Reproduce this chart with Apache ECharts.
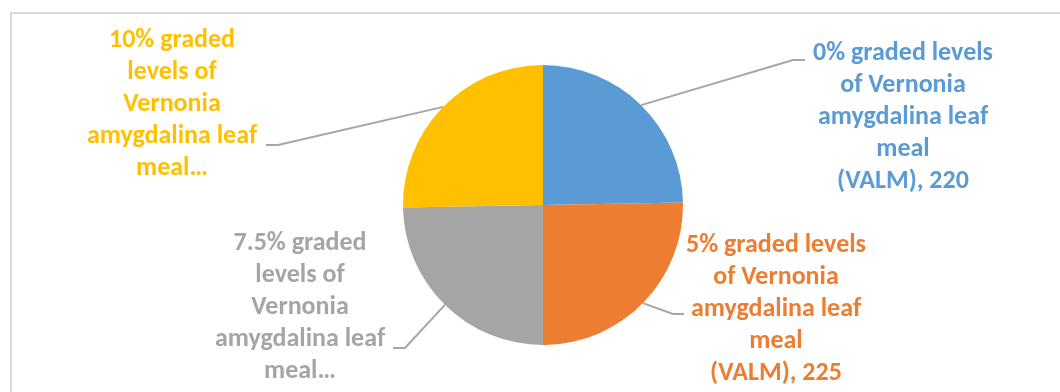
<!DOCTYPE html>
<html>
<head>
<meta charset="utf-8">
<script src="https://cdn.jsdelivr.net/npm/echarts@6/dist/echarts.min.js"></script>
<style>
  html, body { margin: 0; padding: 0; background: #fff; }
  #main { width: 1060px; height: 392px; }
</style>
</head>
<body>
<div id="main"></div>
<script>
// 饼图数据
var categories = [
  "0% graded levels of Vernonia amygdalina leaf meal (VALM)",
  "5% graded levels of Vernonia amygdalina leaf meal (VALM)",
  "7.5% graded levels of Vernonia amygdalina leaf meal (VALM)",
  "10% graded levels of Vernonia amygdalina leaf meal (VALM)"
];
var values = [220, 225, 220, 225];
// 标签文字（按行）
var labelRows = [
  ["0% graded levels", "of Vernonia", "amygdalina leaf", "meal", "(VALM), {c}"],
  ["5% graded levels", "of Vernonia", "amygdalina leaf", "meal", "(VALM), {c}"],
  ["7.5% graded", "levels of", "Vernonia", "amygdalina leaf", "meal…"],
  ["10% graded", "levels of", "Vernonia", "amygdalina leaf", "meal…"]
];
var sliceColors = ["#5B9BD5", "#ED7D31", "#A5A5A5", "#FFC000"];

// 标签位置和引导线折点
var labelPlace = [
  { x: 903, y: 117, bend: [793, 60], end: [805, 60] },
  { x: 776, y: 309, bend: [673, 314], end: [684, 314] },
  { x: 300, y: 307, bend: [405, 348], end: [393, 348] },
  { x: 172, y: 104, bend: [278, 145], end: [266, 145] }
];

var myChart = echarts.init(document.getElementById("main"));
var option;

option = {
  animation: false,
  graphic: [
    {
      type: "rect",
      shape: { x: 11, y: 13, width: 1100, height: 500 },
      style: { fill: "none", stroke: "#d9d9d9", lineWidth: 2 }
    }
  ],
  series: [
    {
      type: "pie",
      center: [543, 205],
      radius: 140,
      startAngle: 90,
      clockwise: true,
      avoidLabelOverlap: false,
      itemStyle: { borderWidth: 0 },
      label: {
        show: true,
        position: "outside",
        fontFamily: "Calibri, Carlito, Lato, sans-serif",
        fontWeight: "bold",
        fontSize: 26,
        lineHeight: 32,
        width: 280,
        overflow: "none",
        align: "center"
      },
      labelLine: {
        show: true,
        lineStyle: { color: "#a6a6a6", width: 2 }
      },
      labelLayout: function (params) {
        var p = labelPlace[params.dataIndex];
        var a = params.labelLinePoints ? params.labelLinePoints[0] : p.bend;
        return {
          x: p.x,
          y: p.y,
          align: "center",
          verticalAlign: "middle",
          labelLinePoints: [a, p.bend, p.end]
        };
      },
      data: categories.map(function (name, i) {
        return {
          name: name,
          value: values[i],
          itemStyle: { color: sliceColors[i] },
          label: { color: sliceColors[i], formatter: labelRows[i].join("\n") }
        };
      })
    }
  ]
};

option && myChart.setOption(option);
</script>
</body>
</html>
